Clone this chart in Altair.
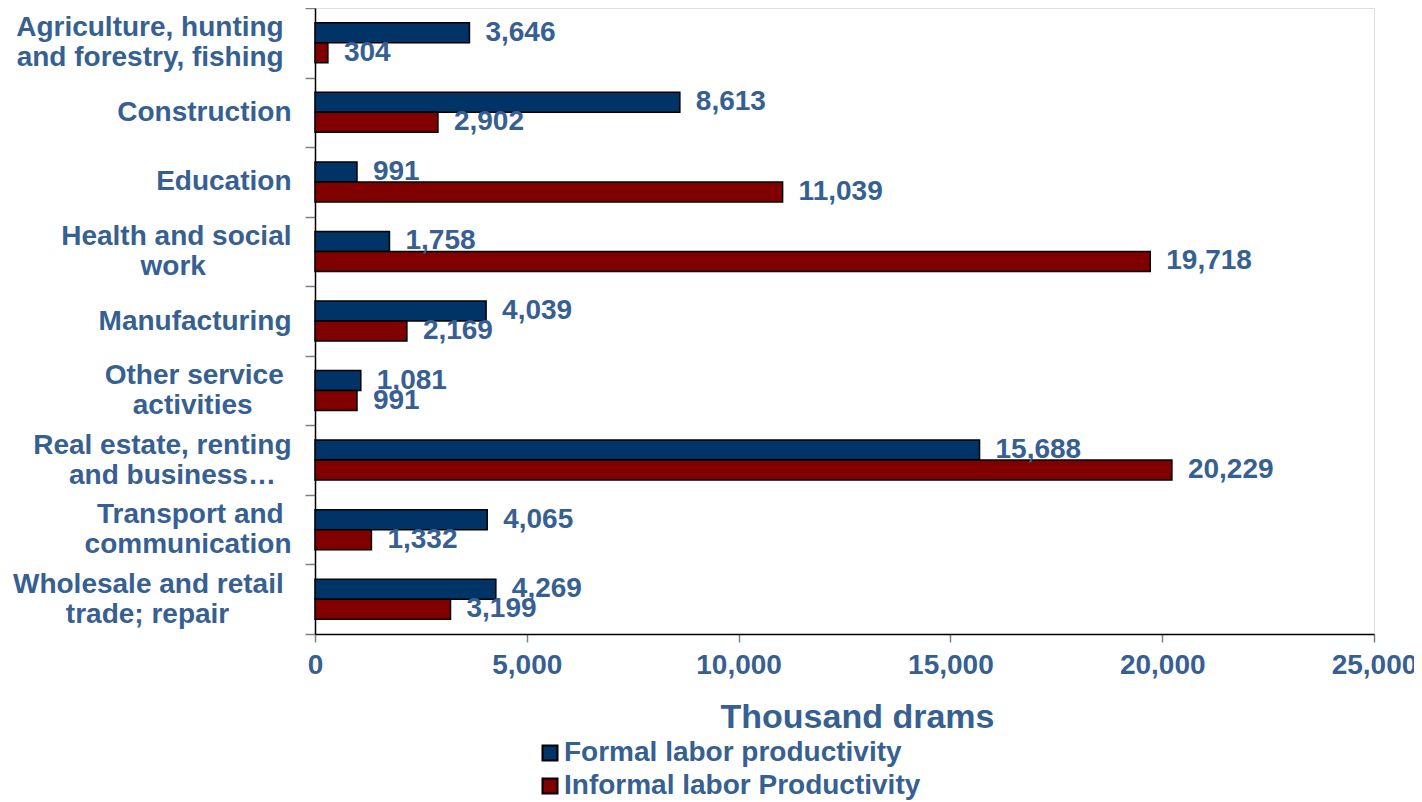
import altair as alt
import pandas as pd

NB = "\u00a0"   # non-breaking space, used to centre the wrapped label lines
ZW = "\u200b"   # zero-width space, keeps padding spaces from being trimmed

categories = [
    "Agriculture, hunting" + NB + ZW + "|and forestry, fishing" + NB + ZW,
    "Construction",
    "Education",
    "Health and social|work" + NB * 11 + ZW,
    "Manufacturing",
    "Other service" + NB + ZW + "|activities" + NB * 5 + ZW,
    "Real estate, renting|and business…" + NB * 2 + ZW,
    "Transport and" + NB + ZW + "|communication",
    "Wholesale and retail" + NB + ZW + "|trade; repair" + NB * 8 + ZW,
]
formal = [3646, 8613, 991, 1758, 4039, 1081, 15688, 4065, 4269]
informal = [304, 2902, 11039, 19718, 2169, 991, 20229, 1332, 3199]
series = ["Formal labor productivity", "Informal labor Productivity"]
colors = ["#003366", "#800000"]
x_ticks = [0, 5000, 10000, 15000, 20000, 25000]

rows = []
for c, f, i in zip(categories, formal, informal):
    rows.append({"category": c, "series": series[0], "value": f})
    rows.append({"category": c, "series": series[1], "value": i})
df = pd.DataFrame(rows)

TXT = "#376092"
FONT = "Liberation Sans"
FS = 28

label_expr = (
    "indexof(datum.label, '|') >= 0 ? "
    "[split(datum.label, '|')[0], '" + ZW + "', split(datum.label, '|')[1]] : "
    "['" + ZW + "', datum.label]"
)

x_enc = alt.X(
    "value:Q",
    scale=alt.Scale(domain=[0, 25000], nice=False),
    axis=alt.Axis(
        values=x_ticks,
        format=",.0f",
        title="Thousand drams",
        titleFont=FONT,
        titleFontSize=34,
        titleFontWeight="bold",
        titleColor=TXT,
        titleX=542,
        titleY=93,
        titleBaseline="alphabetic",
        titleAlign="center",
        labelFont=FONT,
        labelFontSize=FS,
        labelFontWeight="bold",
        labelColor=TXT,
        labelFlush=False,
        labelPadding=9,
        grid=False,
        tickSize=8,
        tickColor="#808080",
        tickWidth=1.5,
        domainColor="black",
        domainWidth=1.5,
    ),
)

y_enc = alt.Y(
    "category:N",
    sort=categories,
    scale=alt.Scale(paddingInner=0, paddingOuter=0),
    axis=alt.Axis(
        title=None,
        labelExpr=label_expr,
        labelFont=FONT,
        labelFontSize=FS,
        labelFontWeight="bold",
        labelColor=TXT,
        labelLineHeight=15,
        labelOffset=-15,
        labelPadding=14,
        labelAlign="right",
        labelBaseline="middle",
        labelLimit=400,
        tickSize=10,
        tickColor="#808080",
        tickWidth=1.5,
        tickBand="extent",
        domainColor="black",
        domainWidth=1.5,
        grid=False,
    ),
)

yo_enc = alt.YOffset(
    "series:N", sort=series, scale=alt.Scale(paddingOuter=0.739, paddingInner=0)
)

color_enc = alt.Color(
    "series:N",
    sort=series,
    scale=alt.Scale(domain=series, range=colors),
    legend=alt.Legend(
        title=None,
        orient="none",
        legendX=221,
        legendY=731,
        padding=0,
        symbolType="square",
        symbolSize=225,
        symbolStrokeColor="black",
        symbolStrokeWidth=2,
        labelFont=FONT,
        labelFontSize=FS,
        labelFontWeight="bold",
        labelColor=TXT,
        labelOffset=0,
        labelLimit=600,
        rowPadding=5,
    ),
)

bars = alt.Chart(df).mark_bar(stroke="black", strokeWidth=1.5).encode(
    x=x_enc, y=y_enc, yOffset=yo_enc, color=color_enc
)

labels = alt.Chart(df).mark_text(
    align="left",
    baseline="middle",
    dx=16,
    font=FONT,
    fontSize=FS,
    fontWeight="bold",
    color=TXT,
).encode(
    x=alt.X("value:Q"),
    y=alt.Y("category:N", sort=categories),
    yOffset=alt.YOffset("series:N", sort=series),
    text=alt.Text("value:Q", format=",.0f"),
)

chart = (
    alt.layer(bars, labels)
    .properties(
        width=1059,
        height=626,
        autosize=alt.AutoSizeParams(type="none"),
        padding={"left": 307, "top": 0, "right": 40, "bottom": 168},
    )
    .configure_view(stroke=None)
    .configure(background="white")
)

chart.save("out.html", embed_options={"renderer": "svg", "actions": False})
